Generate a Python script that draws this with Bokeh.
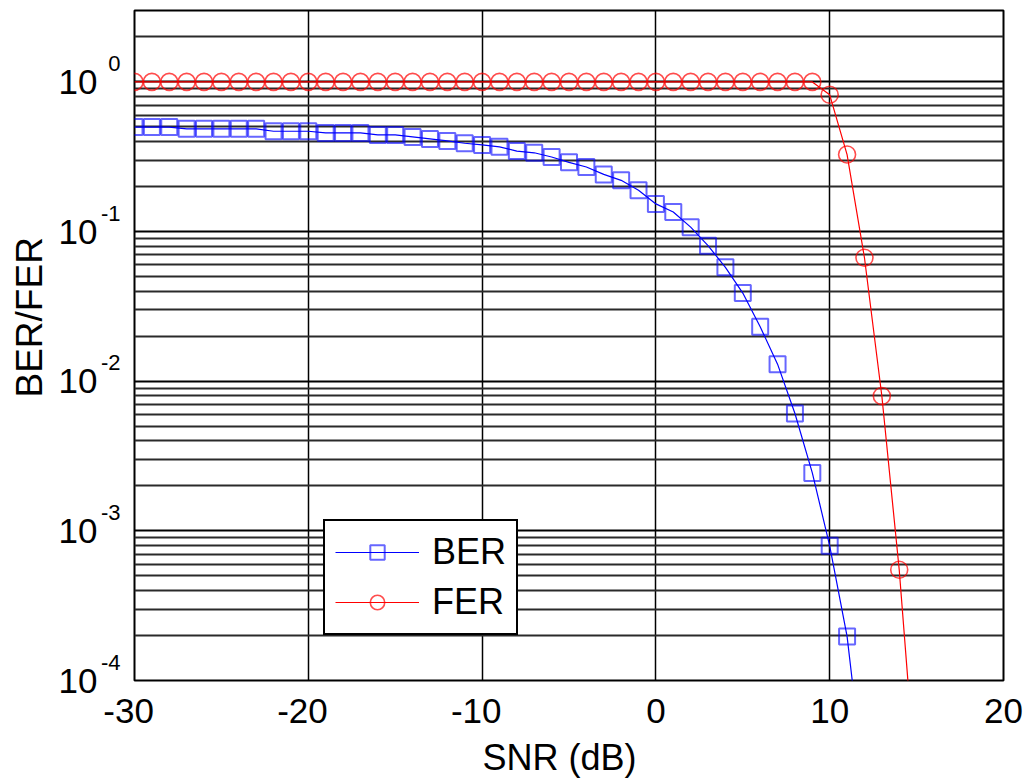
import math
from bokeh.plotting import figure
from bokeh.models import (Range1d, FixedTicker, Legend, LegendItem, LogAxis,
                          LogScale, CustomJSTickFormatter, Title)
from bokeh.embed import file_html
from bokeh.resources import INLINE

# ---- data ----
snr_ber = list(range(-30, 13))
ber = [0.499, 0.499, 0.499, 0.486, 0.486, 0.486, 0.486, 0.486, 0.468, 0.468,
       0.468, 0.456, 0.456, 0.456, 0.442, 0.442, 0.429, 0.416, 0.403, 0.389,
       0.379, 0.368, 0.345, 0.336, 0.315, 0.290, 0.270, 0.241, 0.220, 0.189,
       0.153, 0.135, 0.107, 0.0805, 0.0577, 0.0388, 0.0231, 0.0130, 0.00608,
       0.00244, 0.000794, 0.000197, 0.00002]
snr_fer = list(range(-30, 16))
fer = [1.0] * 40 + [0.82, 0.327, 0.0668, 0.00796, 0.00055, 0.000018]

x_ticks = [-30, -20, -10, 0, 10, 20]
y_decades = [1.0, 0.1, 0.01, 0.001, 0.0001]
y_lo, y_hi = 1e-4, 3.0

FONT = "Liberation Sans"
TICK_FS = "35px"
EXP_FS = "22px"
LABEL_FS = "36px"

FRAME_H = 678
p = figure(width=1025, height=779, y_axis_type="log",
           x_range=Range1d(-30, 20), y_range=Range1d(y_lo, y_hi),
           output_backend="svg", toolbar_location=None,
           min_border_left=134, min_border_right=22,
           min_border_top=10, min_border_bottom=91)
p.background_fill_color = "white"
p.border_fill_color = "white"
p.outline_line_color = "black"
p.outline_line_width = 2
p.outline_line_alpha = 1

# ---- grids ----
p.xgrid.ticker = FixedTicker(ticks=x_ticks)
p.xgrid.grid_line_color = "black"
p.xgrid.grid_line_width = 1.5
p.xgrid.grid_line_alpha = 1

minor = [k * d for d in y_decades for k in range(2, 10)]
p.ygrid.ticker = FixedTicker(ticks=y_decades, minor_ticks=minor)
p.ygrid.axis = None
p.ygrid.grid_line_color = "black"
p.ygrid.grid_line_width = 2
p.ygrid.grid_line_alpha = 1
p.ygrid.minor_grid_line_color = "#2a2a2a"
p.ygrid.minor_grid_line_width = 1.8
p.ygrid.minor_grid_line_alpha = 1

# ---- x axis ----
xa = p.xaxis[0]
xa.ticker = FixedTicker(ticks=x_ticks)
xa.formatter = CustomJSTickFormatter(
    code='return tick < 0 ? String(tick) + "\\u2004" : String(tick)')
xa.axis_line_color = None
xa.major_tick_line_color = None
xa.minor_tick_line_color = None
xa.major_tick_out = 0
xa.major_tick_in = 0
xa.major_label_standoff = 10
xa.major_label_text_font = FONT
xa.major_label_text_font_size = TICK_FS
xa.major_label_text_color = "black"

# ---- y axes: exponent (inner, raised) and base "10" (outer) ----
p.left = []
decade_px = FRAME_H / math.log10(y_hi / y_lo)
f = 10 ** (-18.5 / decade_px)
p.extra_y_ranges = {"exp": Range1d(y_lo * f, y_hi * f)}
p.extra_y_scales = {"exp": LogScale()}


def style_axis(ax, size, standoff):
    ax.axis_line_color = None
    ax.major_tick_line_color = None
    ax.minor_tick_line_color = None
    ax.major_tick_out = 0
    ax.major_tick_in = 0
    ax.major_label_standoff = standoff
    ax.major_label_text_font = FONT
    ax.major_label_text_font_size = size
    ax.major_label_text_color = "black"


exp_axis = LogAxis(y_range_name="exp", ticker=FixedTicker(ticks=y_decades),
                   formatter=CustomJSTickFormatter(
                       code="return String(Math.round(Math.log10(tick)))"))
style_axis(exp_axis, EXP_FS, 14)
p.add_layout(exp_axis, "left")

base_axis = LogAxis(ticker=FixedTicker(ticks=y_decades),
                    formatter=CustomJSTickFormatter(code='return "10"'))
style_axis(base_axis, TICK_FS, 0)
p.add_layout(base_axis, "left")

# ---- axis titles ----
p.add_layout(Title(text="SNR (dB)", align="left", offset=348, standoff=4,
                   text_font=FONT, text_font_size=LABEL_FS,
                   text_font_style="normal", text_color="black"), "below")
p.add_layout(Title(text="BER/FER", align="left", offset=283, standoff=12,
                   text_font=FONT, text_font_size="37px",
                   text_font_style="normal", text_color="black"), "left")

# ---- series ----
bl = p.line(snr_ber, ber, line_color="blue", line_width=1.2)
bm = p.scatter(snr_ber, ber, marker="square", size=16, fill_color=None,
               line_color="blue", line_alpha=0.6, line_width=2)
fl = p.line(snr_fer, fer, line_color="red", line_width=1.2)
fm = p.scatter(snr_fer, fer, marker="circle", size=17, fill_color=None,
               line_color="red", line_alpha=0.7, line_width=1.6)

legend = Legend(items=[LegendItem(label="BER", renderers=[bl, bm]),
                       LegendItem(label="FER", renderers=[fl, fm])],
                location=(189, 45), orientation="vertical",
                label_text_font=FONT, label_text_font_size=LABEL_FS,
                label_text_color="black",
                glyph_width=84, glyph_height=36, label_height=36,
                label_standoff=13, padding=10, spacing=8, margin=0,
                border_line_color="black", border_line_width=2,
                border_line_alpha=1, background_fill_alpha=1)
p.add_layout(legend)

open("out.html", "w").write(file_html(p, INLINE))
